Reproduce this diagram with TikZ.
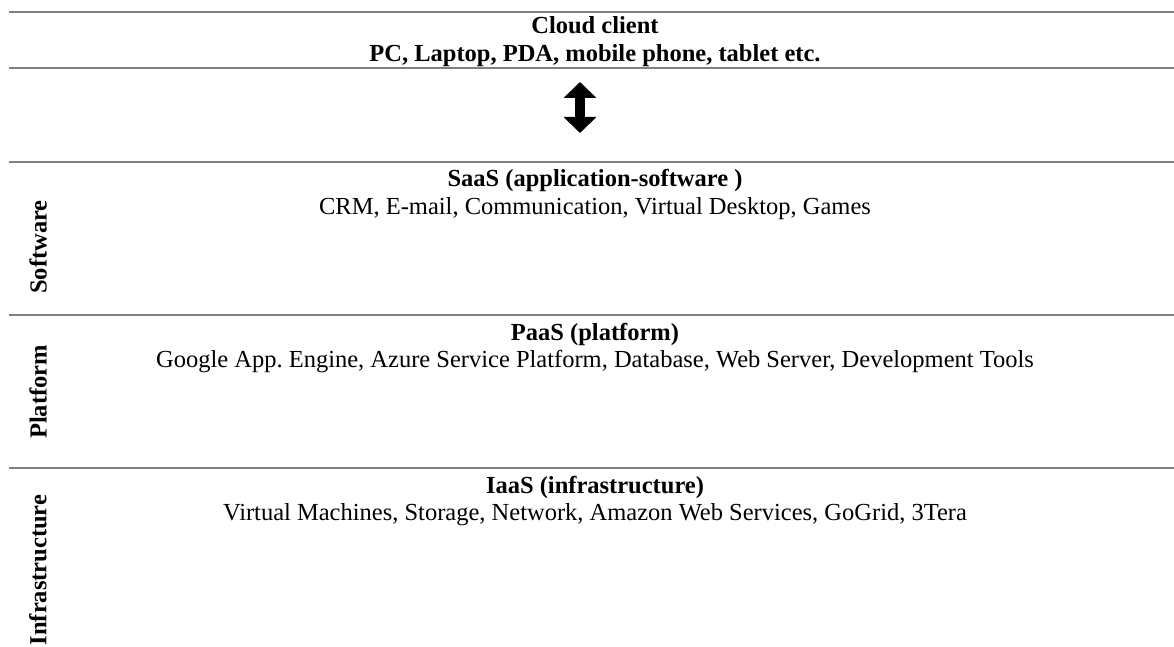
\documentclass[tikz,border=0pt]{standalone}
\usepackage{fontspec}
\setmainfont{Liberation Serif}
\usetikzlibrary{arrows.meta}

\tikzset{
	sep/.style={draw=gray, line width=1pt},
	txt/.style={anchor=base, inner sep=0pt, font=\fontsize{12.25pt}{14pt}\selectfont},
	head/.style={txt, font=\fontsize{12.25pt}{14pt}\selectfont\bfseries},
	side/.style={rotate=90, inner sep=0pt, font=\fontsize{12.25pt}{14pt}\selectfont\bfseries},
	updown/.style={line width=5.4pt, {Triangle[width=16pt,length=8pt]}-{Triangle[width=16pt,length=8pt]}}
}

\begin{document}
\begin{tikzpicture}[x=0.5pt, y=-0.5pt]
		\useasboundingbox (0, 0) rectangle (1174, 647);

		\foreach \y in {12, 68, 162, 315, 468}{
				\draw[sep] (9, \y) -- (1174, \y);
			}

		\node[head] (client) at (595, 34) {Cloud client};
		\node[head] (devices) at (595, 62) {PC, Laptop, PDA, mobile phone, tablet etc.};

		\coordinate (up) at (580, 82);
		\coordinate (down) at (580, 133);
		\draw[updown] (up) -- (down);

		\node[head] (saas) at (595, 187) {SaaS (application-software )};
		\node[txt] (saaslist) at (595, 214) {CRM, E-mail, Communication, Virtual Desktop, Games};

		\node[head] (paas) at (595, 340) {PaaS (platform)};
		\node[txt] (paaslist) at (595, 367) {Google App.\ Engine, Azure Service Platform, Database, Web Server, Development Tools};

		\node[head] (iaas) at (595, 493) {IaaS (infrastructure)};
		\node[txt] (iaaslist) at (595, 520) {Virtual Machines, Storage, Network, Amazon Web Services, GoGrid, 3Tera};

		\node[side] (software) at (38, 247) {Software};
		\node[side] (platform) at (38, 392) {Platform};
		\node[side] (infra) at (38, 570) {Infrastructure};
	\end{tikzpicture}
\end{document}
